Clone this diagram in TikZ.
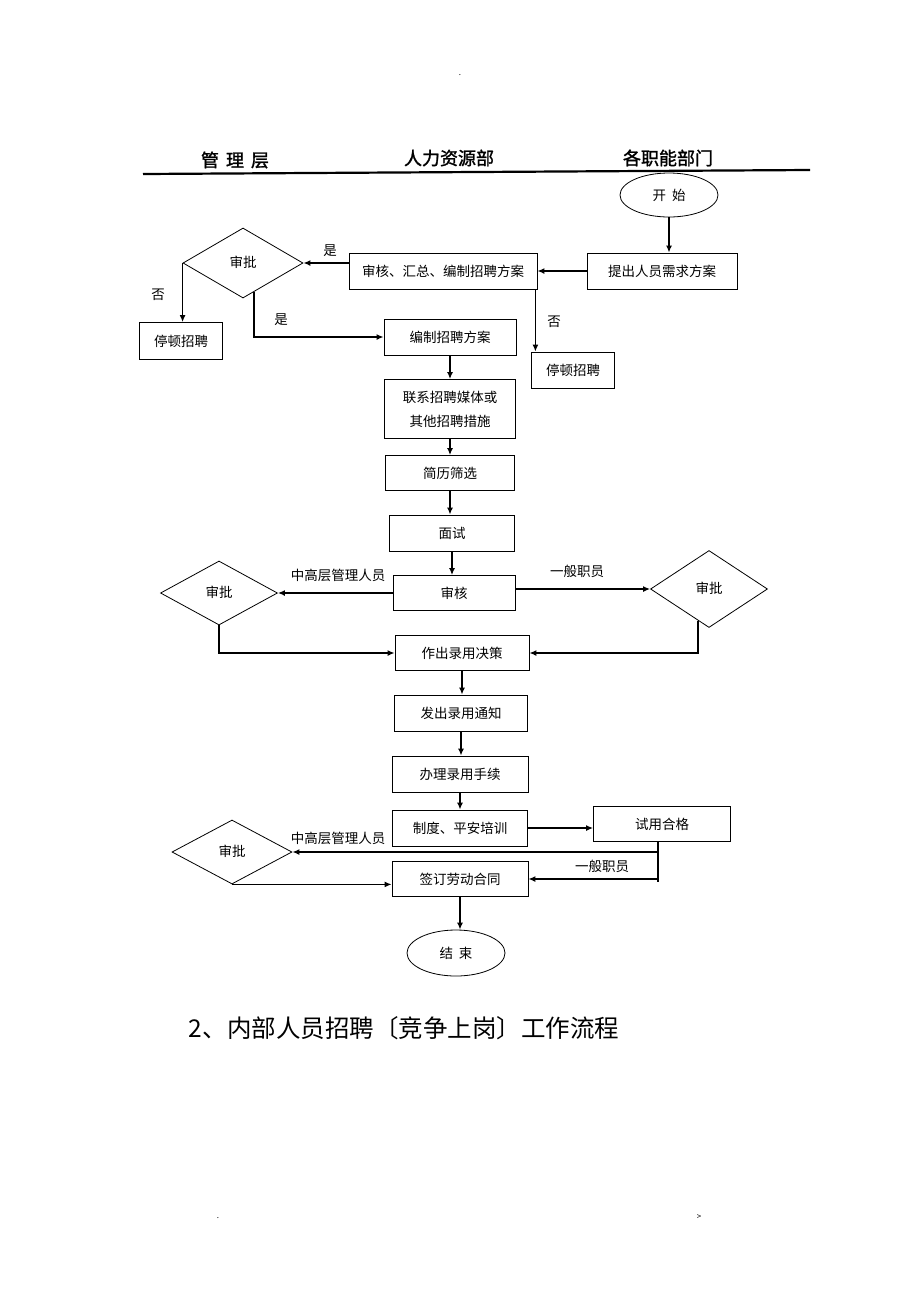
\documentclass[tikz,border=0pt]{standalone}
\usepackage{fontspec}
\setmainfont{Noto Sans CJK SC}
\newfontfamily\hdfont[FakeBold=1.5]{Noto Sans CJK SC}
\usetikzlibrary{shapes.geometric,arrows.meta,calc}
\newcommand{\dectext}[1]{\raisebox{3pt}{#1}\hspace{18pt}}

\begin{document}
\begin{tikzpicture}[x=1pt, y=-1pt, line width=0.8pt,
    box/.style = {draw, rectangle, minimum height=36pt, inner sep=0pt, font=\fontsize{13.5}{24}\selectfont},
    dec/.style = {draw, diamond, inner sep=0pt, font=\fontsize{13.5}{16}\selectfont},
    term/.style = {draw, ellipse, inner sep=0pt, font=\fontsize{13.5}{16}\selectfont},
    lab/.style = {inner sep=0pt, font=\fontsize{13.5}{16}\selectfont},
    head/.style = {inner sep=0pt, font=\hdfont\fontsize{18}{20}\selectfont},
    arr/.style = {-{Latex[length=7pt,width=6pt]}, line width=1.5pt}]
    \useasboundingbox (0,0) rectangle (920,1302);

    % intestazione delle colonne
    \node[inner sep=0pt, font=\fontsize{8}{9}\selectfont] (dot1) at (460,75) {.};
    \node[head] (hmgmt) at (235,160) {管\hspace{7pt}理\hspace{7pt}层};
    \node[head] (hhr) at (449,158) {人力资源部};
    \node[head] (hdept) at (668,158) {各职能部门};
    \coordinate (hl) at (143,174);
    \coordinate (hr) at (810,170);
    \draw[line width=2.2pt] (hl) -- (hr);

    % nodi del flusso
    \node[term, minimum width=98pt, minimum height=44pt] (start) at (669,195) {开\hspace{6pt}始};
    \node[box, minimum width=150pt] (need) at (662,271) {提出人员需求方案};
    \node[box, minimum width=188pt] (sum) at (443,271) {审核、汇总、编制招聘方案};
    \node[dec, minimum width=120pt, minimum height=70pt] (dia1) at (243,263) {\dectext{审批}};
    \node[box, minimum width=83pt, minimum height=37pt] (stop1) at (181,341) {停顿招聘};
    \node[box, minimum width=132pt] (plan) at (450,337) {编制招聘方案};
    \node[box, minimum width=83pt] (stop2) at (573,370) {停顿招聘};
    \node[box, minimum width=131pt, minimum height=59pt, align=center] (media) at (450,409) {联系招聘媒体或\\其他招聘措施};
    \node[box, minimum width=129pt, minimum height=35pt] (cv) at (450,473) {简历筛选};
    \node[box, minimum width=125pt] (interview) at (452,533) {面试};
    \node[box, minimum width=122pt, minimum height=35pt] (review) at (454,593) {审核};
    \node[dec, minimum width=117pt, minimum height=64pt] (dia2) at (219,593) {\dectext{审批}};
    \node[dec, minimum width=117pt, minimum height=77pt] (dia3) at (709,589) {\dectext{审批}};
    \node[box, minimum width=134pt, minimum height=35pt] (decide) at (462,653) {作出录用决策};
    \node[box, minimum width=133pt] (notice) at (461,713) {发出录用通知};
    \node[box, minimum width=136pt] (handle) at (460,774) {办理录用手续};
    \node[box, minimum width=135pt] (train) at (460,828) {制度、平安培训};
    \node[box, minimum width=137pt, minimum height=35pt] (trial) at (662,824) {试用合格};
    \node[dec, minimum width=120pt, minimum height=64pt] (dia4) at (232,852) {\dectext{审批}};
    \node[box, minimum width=136pt, minimum height=35pt] (sign) at (460,879) {签订劳动合同};
    \node[term, minimum width=98pt, minimum height=46pt] (stop) at (456,953) {结\hspace{6pt}束};

    % etichette
    \node[lab] (yes1) at (330,251) {是};
    \node[lab] (no1) at (158,295) {否};
    \node[lab] (yes2) at (281,320) {是};
    \node[lab] (no2) at (554,322) {否};
    \node[lab] (senior1) at (338,575) {中高层管理人员};
    \node[lab] (staff1) at (577,571) {一般职员};
    \node[lab] (senior2) at (338,838) {中高层管理人员};
    \node[lab] (staff2) at (602,866) {一般职员};

    \draw[arr] (start) -- (start |- need.north);
    \draw[arr] (need) -- (sum);
    \draw[arr] (sum.west |- dia1.east) -- (dia1.east);
    \draw[arr] (dia1.west) -- (dia1.west |- stop1.north);
    \draw[arr] ($(dia1.south)!0.18!(dia1.east)$) |- (plan.west);
    \draw[arr] ([xshift=-2pt]sum.south east) -- ([xshift=-2pt]sum.south east |- stop2.north);

    \draw[arr] (plan) -- (plan |- media.north);
    \draw[arr] (media) -- (media |- cv.north);
    \draw[arr] (cv) -- (cv |- interview.north);
    \draw[arr] (interview) -- (interview |- review.north);
    \draw[arr] (review) -- (dia2);
    \draw[arr] (review.east |- dia3.west) -- (dia3.west);
    \draw[arr] (dia2.south) |- (decide.west);
    \draw[arr] ($(dia3.south)!0.19!(dia3.west)$) |- (decide.east);

    \draw[arr] (decide) -- (decide |- notice.north);
    \draw[arr] (notice) -- (notice |- handle.north);
    \draw[arr] (handle) -- (handle |- train.north);
    \draw[arr] (train) -- (train -| trial.west);
    \coordinate (tend) at (658,882);
    \draw[line width=1.5pt] (trial.south -| tend) -- (tend);
    \draw[arr] (tend |- dia4.east) -- (dia4.east);
    \draw[arr] (tend |- sign.east) -- (sign.east);
    \draw[arr] (dia4.south) -- (dia4.south -| sign.west);
    \draw[arr] (sign) -- (sign |- stop.north);

    \node[inner sep=0pt, font=\fontsize{24.5}{28}\selectfont] (title) at (404,1028) {2、内部人员招聘〔竞争上岗〕工作流程};
    \node[inner sep=0pt, font=\fontsize{8}{9}\selectfont] (dot2) at (218,1218) {.};
    \node[inner sep=0pt, font=\fontsize{8}{9}\selectfont] (dot3) at (699,1217) {>};
\end{tikzpicture}
\end{document}
